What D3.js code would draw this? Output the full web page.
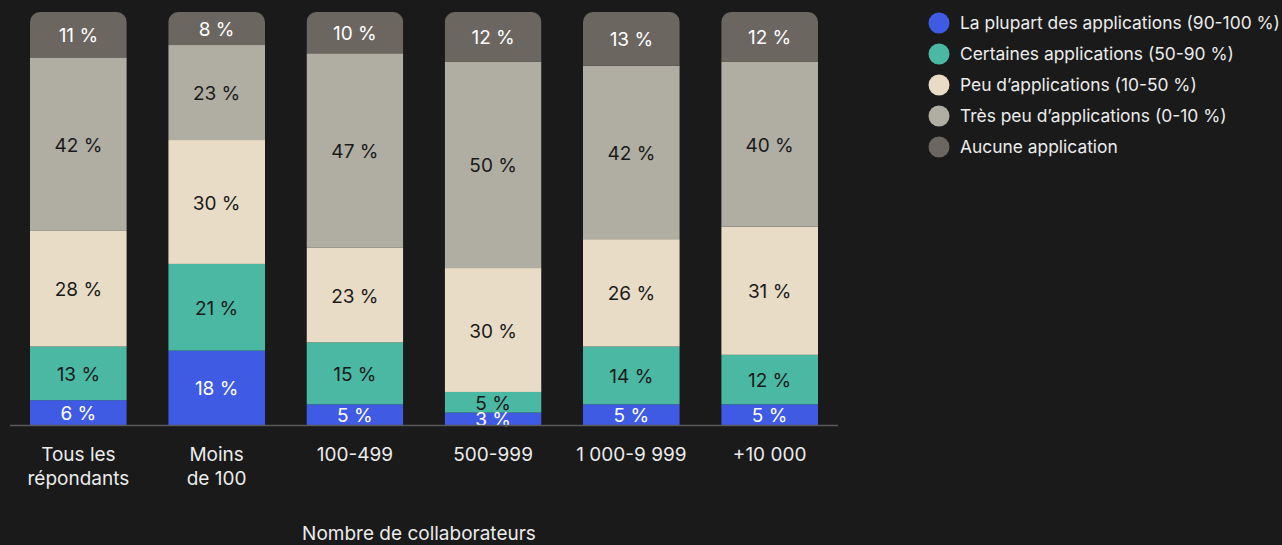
<!DOCTYPE html>
<html>
<head>
<meta charset="utf-8">
<script src="https://cdn.jsdelivr.net/npm/d3@7"></script>
<style>
  html, body { margin: 0; padding: 0; background: #1a1a1a; }
  svg { display: block; }
</style>
</head>
<body>
<div id="chart"></div>
<script>
// data
var groups = [["Tous les", "répondants"], ["Moins", "de 100"], ["100-499"], ["500-999"], ["1 000-9 999"], ["+10 000"]];
var seriesNames = [
  "La plupart des applications (90-100 %)",
  "Certaines applications (50-90 %)",
  "Peu d\u2019applications (10-50 %)",
  "Très peu d\u2019applications (0-10 %)",
  "Aucune application"
];
var most = [6, 18, 5, 3, 5, 5];
var some = [13, 21, 15, 5, 14, 12];
var few = [28, 30, 23, 30, 26, 31];
var veryFew = [42, 23, 47, 50, 42, 40];
var none = [11, 8, 10, 12, 13, 12];
var axisTitle = "Nombre de collaborateurs";

var colors = ["#3f5be3", "#4bb8a4", "#e8dcc6", "#b0ada2", "#6b6660"];
var textColors = ["#ffffff", "#1a1a1a", "#1a1a1a", "#1a1a1a", "#ffffff"];

var W = 1282, H = 545;
var font = "Inter, 'Open Sans', sans-serif";

var svg = d3.select("#chart").append("svg")
  .attr("width", W)
  .attr("height", H);

var rows = groups.map(function (g, i) {
  return { id: i, label: g, s0: most[i], s1: some[i], s2: few[i], s3: veryFew[i], s4: none[i] };
});
var keys = ["s0", "s1", "s2", "s3", "s4"];
var stacked = d3.stack().keys(keys)(rows);

var x = d3.scaleBand()
  .domain(rows.map(function (d) { return d.id; }))
  .range([30, 818])
  .paddingInner(0.3)
  .paddingOuter(0);

var y = d3.scaleLinear().domain([0, 100]).range([425, 12]);

// rounded tops via clip paths
var defs = svg.append("defs");
rows.forEach(function (d) {
  defs.append("clipPath")
    .attr("id", "clip" + d.id)
    .append("rect")
    .attr("x", x(d.id))
    .attr("y", y(100))
    .attr("width", x.bandwidth())
    .attr("height", y(0) - y(100) + 30)
    .attr("rx", 10);
});

var bars = svg.append("g");
stacked.forEach(function (layer, k) {
  layer.forEach(function (seg, i) {
    var gBar = bars.append("g").attr("clip-path", "url(#clip" + i + ")");
    gBar.append("rect")
      .attr("x", x(i))
      .attr("y", y(seg[1]))
      .attr("width", x.bandwidth())
      .attr("height", y(seg[0]) - y(seg[1]))
      .attr("fill", colors[k]);
  });
});

// value labels
stacked.forEach(function (layer, k) {
  svg.append("g").selectAll("text")
    .data(layer)
    .enter()
    .append("text")
    .attr("x", function (seg, i) { return x(i) + x.bandwidth() / 2; })
    .attr("y", function (seg) { return (y(seg[0]) + y(seg[1])) / 2 + 1; })
    .attr("dy", "0.35em")
    .attr("text-anchor", "middle")
    .attr("font-family", font)
    .attr("font-size", "19px")
    .attr("fill", textColors[k])
    .text(function (seg) { return (seg[1] - seg[0]) + " %"; });
});

// baseline
svg.append("line")
  .attr("x1", 10).attr("x2", 838)
  .attr("y1", y(0) + 0.5).attr("y2", y(0) + 0.5)
  .attr("stroke", "#5a5a5a")
  .attr("stroke-width", 1.5);

// category labels
var cat = svg.append("g").selectAll("text")
  .data(rows)
  .enter()
  .append("text")
  .attr("text-anchor", "middle")
  .attr("font-family", font)
  .attr("font-size", "19px")
  .attr("fill", "#ececec");
cat.each(function (d) {
  var t = d3.select(this);
  d.label.forEach(function (line, j) {
    t.append("tspan")
      .attr("x", x(d.id) + x.bandwidth() / 2)
      .attr("y", 461 + j * 24)
      .text(line);
  });
});

svg.append("text")
  .attr("x", 419)
  .attr("y", 540)
  .attr("text-anchor", "middle")
  .attr("font-family", font)
  .attr("font-size", "19px")
  .attr("fill", "#ececec")
  .text(axisTitle);

// legend
var legend = svg.append("g").selectAll("g")
  .data(seriesNames)
  .enter()
  .append("g")
  .attr("transform", function (d, i) { return "translate(939," + (23 + i * 31) + ")"; });
legend.append("circle")
  .attr("r", 10.5)
  .attr("fill", function (d, i) { return colors[i]; });
legend.append("text")
  .attr("x", 21)
  .attr("dy", "0.35em")
  .attr("font-family", font)
  .attr("font-size", "17.4px")
  .attr("fill", "#ececec")
  .text(function (d) { return d; });
</script>
</body>
</html>
